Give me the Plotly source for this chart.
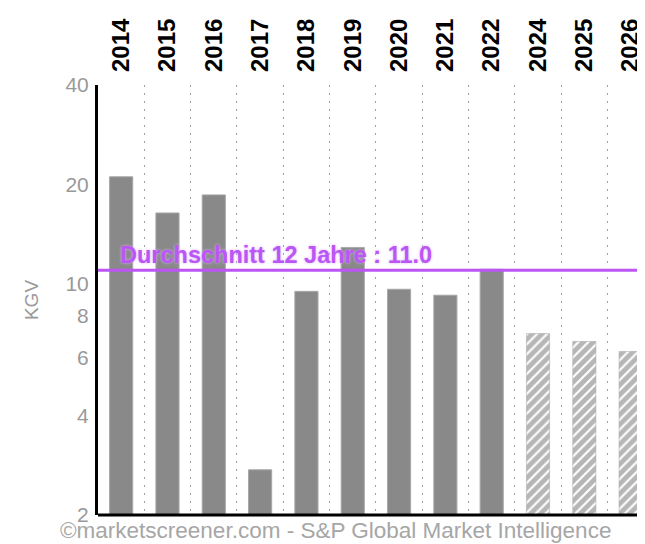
import plotly.graph_objects as go
import math

years = ["2014", "2015", "2016", "2017", "2018", "2019", "2020", "2021", "2022", "2024", "2025", "2026"]
kgv = [21.1, 16.4, 18.6, 2.74, 9.5, 12.9, 9.64, 9.25, 11.08, 7.08, 6.70, 6.25]
is_estimate = [False] * 9 + [True] * 3
average = 11.0
avg_label = "Durchschnitt 12 Jahre : 11.0"
y_ticks = [2, 4, 6, 8, 10, 20, 40]
y_title = "KGV"
watermark = "©marketscreener.com - S&P Global Market Intelligence"

FONT = "Liberation Sans, Arial, sans-serif"
GRAY = "#898989"
PURPLE = "#bb55f5"

fig = go.Figure()

act_x = [y for y, e in zip(years, is_estimate) if not e]
act_y = [v for v, e in zip(kgv, is_estimate) if not e]
est_x = [y for y, e in zip(years, is_estimate) if e]
est_y = [v for v, e in zip(kgv, is_estimate) if e]

fig.add_trace(go.Bar(
    x=act_x, y=act_y, width=0.5,
    marker=dict(color=GRAY, line=dict(color="#a8a8a8", width=1)),
    showlegend=False,
))
fig.add_trace(go.Bar(
    x=est_x, y=est_y, width=0.5,
    marker=dict(color="white", line=dict(color="#a0a0a0", width=0.5),
                pattern=dict(shape="/", fgcolor="#6e6e6e", bgcolor="white", size=7, solidity=0.7)),
    showlegend=False,
))

fig.add_hline(y=average, line=dict(color=PURPLE, width=3), layer="above")

fig.add_annotation(
    x=-0.5, y=math.log10(average), xref="x", yref="y",
    text="<b>" + avg_label + "</b>", showarrow=False,
    xanchor="left", yanchor="bottom", xshift=20, yshift=0,
    font=dict(family=FONT, size=23.5, color=PURPLE, shadow="0px 0px 3px #dcb0ff"),
)

fig.add_annotation(
    x=-0.0735, y=-0.035, xref="paper", yref="paper",
    text=watermark, showarrow=False, xanchor="left", yanchor="middle",
    font=dict(family=FONT, size=22.5, color="#a6a6a6"),
)

fig.add_shape(type="line", xref="paper", yref="paper", x0=0, x1=1, y0=0, y1=0,
              line=dict(color="black", width=3))

fig.update_layout(
    width=637, height=536,
    margin=dict(l=90, r=0, t=77, b=29),
    paper_bgcolor="white", plot_bgcolor="white",
    font=dict(family=FONT),
    bargap=0.5,
    xaxis=dict(
        type="category", categoryorder="array", categoryarray=years,
        side="top", tickangle=-90, range=[-0.5, 11.31],
        tickfont=dict(family=FONT, size=24, color="black", weight="bold"),
        showline=False, ticks="", ticklabelstandoff=12,
        showgrid=True, tickson="boundaries", griddash="1.5px,6.5px",
        gridcolor="#a0a0a0", gridwidth=1,
        zeroline=False, fixedrange=True,
    ),
    yaxis=dict(
        type="log", range=[math.log10(2), math.log10(40)],
        tickvals=y_ticks, ticktext=[str(v) for v in y_ticks],
        tickfont=dict(family=FONT, size=21, color="#999999"),
        showline=True, linecolor="black", linewidth=3,
        showgrid=False, zeroline=False, ticks="", ticklabelstandoff=2,
        title=dict(text=y_title, font=dict(family=FONT, size=19, color="#999999"), standoff=22),
        fixedrange=True,
    ),
)

fig.write_html("out.html")
